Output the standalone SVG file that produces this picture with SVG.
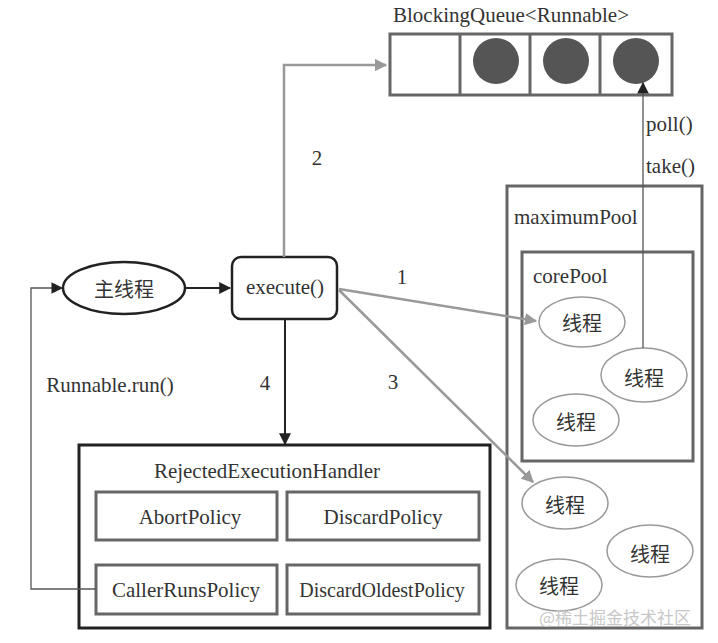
<svg xmlns="http://www.w3.org/2000/svg" width="718" height="643" viewBox="0 0 718 643">
<style>
text{font-family:"Liberation Serif","DejaVu Serif","Times New Roman",serif;font-size:21px;fill:#333}
.cjk{font-family:"Noto Sans CJK SC","Noto Sans",sans-serif;font-size:20px;fill:#333}
.mid{text-anchor:middle;dominant-baseline:central}
.gbox{fill:#fff;stroke:#666;stroke-width:3}
.thread{fill:#fff;stroke:#999;stroke-width:1.5}
.gline{fill:none;stroke:#999;stroke-width:2.5}
.kline{fill:none;stroke:#222;stroke-width:2}
.tline{fill:none;stroke:#555;stroke-width:1.3}
</style>
<defs>
<marker id="ag" viewBox="0 0 10 10" refX="9" refY="5" markerWidth="5" markerHeight="5" orient="auto" markerUnits="strokeWidth"><path d="M0,0 L10,5 L0,10 z" fill="#999"/></marker>
<marker id="ak" viewBox="0 0 10 10" refX="9" refY="5" markerWidth="6" markerHeight="6" orient="auto" markerUnits="strokeWidth"><path d="M0,0 L10,5 L0,10 z" fill="#222"/></marker>
<marker id="at" viewBox="0 0 10 10" refX="9" refY="5" markerWidth="9" markerHeight="9" orient="auto" markerUnits="strokeWidth"><path d="M0,0 L10,5 L0,10 z" fill="#222"/></marker>
</defs>
<rect width="718" height="643" fill="#fff"/>

<g id="queue">
<text x="393" y="22">BlockingQueue&lt;Runnable&gt;</text>
<rect class="gbox" x="390" y="34" width="282" height="61"/>
<line x1="460" y1="34" x2="460" y2="95" stroke="#666" stroke-width="3"/>
<line x1="530" y1="34" x2="530" y2="95" stroke="#666" stroke-width="3"/>
<line x1="600" y1="34" x2="600" y2="95" stroke="#666" stroke-width="3"/>
<circle cx="496" cy="61" r="23" fill="#555"/>
<circle cx="566" cy="61" r="23" fill="#555"/>
<circle cx="636" cy="61" r="23" fill="#555"/>
</g>

<g id="maximumPool">
<rect class="gbox" x="507" y="186" width="195" height="442" stroke="#777"/>
<text x="514" y="224">maximumPool</text>
</g>
<g id="corePool">
<rect class="gbox" x="522" y="252" width="171" height="209" stroke="#777"/>
<text x="533" y="283">corePool</text>
</g>

<g id="thread1"><ellipse class="thread" cx="582" cy="322" rx="43" ry="25"/><text class="cjk mid" x="582" y="322">线程</text></g>
<g id="thread2"><ellipse class="thread" cx="644" cy="375" rx="43" ry="27"/><text class="cjk mid" x="644" y="377">线程</text></g>
<g id="thread3"><ellipse class="thread" cx="576" cy="420" rx="43" ry="26"/><text class="cjk mid" x="576" y="421">线程</text></g>
<g id="thread4"><ellipse class="thread" cx="565" cy="503" rx="43" ry="26"/><text class="cjk mid" x="565" y="504">线程</text></g>
<g id="thread5"><ellipse class="thread" cx="650" cy="551" rx="43" ry="26"/><text class="cjk mid" x="650" y="553">线程</text></g>
<g id="thread6"><ellipse class="thread" cx="559" cy="585" rx="43" ry="26"/><text class="cjk mid" x="559" y="585">线程</text></g>

<g id="mainThread">
<ellipse cx="124" cy="288" rx="61" ry="26" fill="#fff" stroke="#222" stroke-width="2.5"/>
<text class="cjk mid" x="124" y="288">主线程</text>
</g>

<g id="execute">
<rect x="232" y="257" width="105" height="62" rx="9" fill="#fff" stroke="#222" stroke-width="2.5"/>
<text class="mid" x="285" y="287">execute()</text>
</g>

<g id="handler">
<rect x="79" y="445" width="411" height="183" fill="#fff" stroke="#222" stroke-width="3"/>
<text class="mid" x="267" y="471">RejectedExecutionHandler</text>
</g>
<g id="abortPolicy"><rect class="gbox" x="96" y="492" width="181" height="48"/><text class="mid" x="190" y="517">AbortPolicy</text></g>
<g id="discardPolicy"><rect class="gbox" x="287" y="492" width="192" height="48"/><text class="mid" x="383" y="517">DiscardPolicy</text></g>
<g id="callerRunsPolicy"><rect class="gbox" x="96" y="565" width="181" height="49"/><text class="mid" x="186" y="590">CallerRunsPolicy</text></g>
<g id="discardOldestPolicy"><rect class="gbox" x="287" y="565" width="192" height="49"/><text class="mid" x="382" y="590" style="font-size:20px">DiscardOldestPolicy</text></g>

<g id="connectors">
<polyline class="gline" points="284,257 284,65 386,65" marker-end="url(#ag)"/>
<text class="mid" x="317" y="158">2</text>
<line class="gline" x1="339" y1="289" x2="536" y2="321" marker-end="url(#ag)"/>
<text class="mid" x="402" y="277">1</text>
<line class="gline" x1="339" y1="290" x2="533" y2="482" marker-end="url(#ag)"/>
<text class="mid" x="393" y="382">3</text>
<line class="kline" x1="185" y1="288" x2="230" y2="288" marker-end="url(#ak)"/>
<line class="kline" x1="285" y1="319" x2="285" y2="444" marker-end="url(#ak)"/>
<text class="mid" x="265" y="383">4</text>
<polyline class="tline" points="96,589 31,589 31,288 62,288" marker-end="url(#at)"/>
<text class="mid" x="110" y="385">Runnable.run()</text>
<line class="tline" x1="643" y1="348" x2="643" y2="83" marker-end="url(#at)"/>
<text x="646" y="131">poll()</text>
<text x="646" y="173">take()</text>
</g>
<text class="cjk" x="539" y="624" style="font-size:17px;fill:#c8c8c8">@稀土掘金技术社区</text>
</svg>
